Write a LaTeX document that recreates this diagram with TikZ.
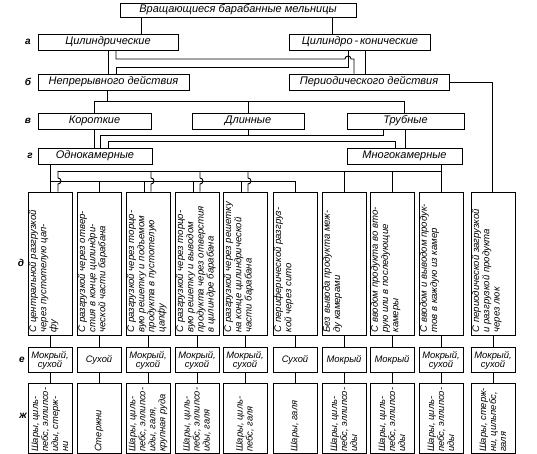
\documentclass[tikz,border=0pt]{standalone}
\usepackage{fontspec}
\setmainfont{Liberation Sans}
\usepackage{graphicx}
\usepackage{tikz}
\usetikzlibrary{positioning}
\newcommand{\dtxt}[1]{\rotatebox{90}{\parbox[c][42pt][t]{138pt}{\raggedright #1}}}
\newcommand{\ztxt}[1]{\rotatebox{90}{\parbox{66pt}{\raggedright #1}}}
\newcommand{\jdrop}[2]{\draw[ln] ([xshift=#2]#1.north |- g4) -- ([xshift=#2,yshift=3pt]#1.north |- g1) arc[start angle=90,end angle=-90,radius=3pt] -- ([xshift=#2]#1.north);}
\tikzset{
  hbox/.style={draw,line width=0.9pt,inner sep=1pt,minimum height=16pt,font=\fontsize{11}{12}\selectfont\itshape},
  dbox/.style={draw,line width=0.9pt,inner sep=0pt,minimum width=44pt,minimum height=143pt,font=\fontsize{9.6}{10.2}\selectfont\itshape},
  ebox/.style={draw,line width=0.9pt,inner sep=0pt,minimum width=44pt,minimum height=25pt,align=center,font=\fontsize{9.4}{9.6}\selectfont\itshape},
  zbox/.style={draw,line width=0.9pt,inner sep=0pt,minimum width=44pt,minimum height=70pt,font=\fontsize{9.4}{10}\selectfont\itshape},
  rowlbl/.style={font=\fontsize{10}{12}\selectfont\bfseries\itshape},
  ln/.style={line width=0.9pt},
}
\begin{document}
\begin{tikzpicture}[x=1pt,y=-1pt]
  \useasboundingbox (0,0) rectangle (537,454);
  % row labels
  \node[rowlbl] (la) at (28,42) {а};
  \node[rowlbl] (lb) at (28,82) {б};
  \node[rowlbl] (lv) at (28,121) {в};
  \node[rowlbl] (lg) at (30,156) {г};
  \node[rowlbl] (ld) at (21,263) {д};
  \node[rowlbl] (le) at (22,360) {е};
  \node[rowlbl] (lz) at (23,416) {ж};
  % headers
  \node[hbox,minimum width=236pt,minimum height=14pt] (top) at (238,10) {Вращающиеся барабанные мельницы};
  \node[hbox,minimum width=140pt] (cyl) at (108,42) {Цилиндрические};
  \node[hbox,minimum width=141pt] (cc) at (360,42) {Цилиндро\,-\,конические};
  \node[hbox,minimum width=151pt] (np) at (113.5,82) {Непрерывного действия};
  \node[hbox,minimum width=160pt] (pd) at (369,82) {Периодического действия};
  \node[hbox,minimum width=113pt] (kr) at (94.5,121) {Короткие};
  \node[hbox,minimum width=112pt] (dl) at (248,121) {Длинные};
  \node[hbox,minimum width=117pt] (tr) at (405.5,121) {Трубные};
  \node[hbox,minimum width=114pt] (od) at (95,156) {Однокамерные};
  \node[hbox,minimum width=115pt] (mk) at (404.5,156) {Многокамерные};
  % row d
  \node[dbox] (d1) at (50,263.5) {\dtxt{С центральной разгрузкой\\через пустотелую цап-\\фу}};
  \node[dbox] (d2) at (99,263.5) {\dtxt{С разгрузкой через отвер-\\стия в конце цилиндри-\\ческой части барабана}};
  \node[dbox] (d3) at (148,263.5) {\dtxt{С разгрузкой через торцо-\\вую решетку и подъемом\\продукта в пустотелую\\цапфу}};
  \node[dbox] (d4) at (197,263.5) {\dtxt{С разгрузкой через торцо-\\вую решетку и выводом\\продукта через отверстия\\в цилиндре барабана}};
  \node[dbox] (d5) at (245,263.5) {\dtxt{С разгрузкой через решетку\\на конце цилиндрической\\части барабана}};
  \node[dbox] (d6) at (295,263.5) {\dtxt{С периферической разгруз-\\кой через сито}};
  \node[dbox] (d7) at (344,263.5) {\dtxt{Без вывода продукта меж-\\ду камерами}};
  \node[dbox] (d8) at (392,263.5) {\dtxt{С вводом продукта во вто-\\рую или в последующие\\камеры}};
  \node[dbox] (d9) at (441,263.5) {\dtxt{С вводом и выводом продук-\\тов в каждую из камер}};
  \node[dbox] (d10) at (493,263.5) {\dtxt{С периодической загрузкой\\и разгрузкой продукта\\через люк}};
  % row e
  \node[ebox,below=12pt of d1] (e1) {Мокрый,\\сухой};
  \node[ebox,below=12pt of d2] (e2) {Сухой};
  \node[ebox,below=12pt of d3] (e3) {Мокрый,\\сухой};
  \node[ebox,below=12pt of d4] (e4) {Мокрый,\\сухой};
  \node[ebox,below=12pt of d5] (e5) {Мокрый,\\сухой};
  \node[ebox,below=12pt of d6] (e6) {Сухой};
  \node[ebox,below=12pt of d7] (e7) {Мокрый};
  \node[ebox,below=12pt of d8] (e8) {Мокрый};
  \node[ebox,below=12pt of d9] (e9) {Мокрый,\\сухой};
  \node[ebox,below=12pt of d10] (e10) {Мокрый,\\сухой};
  % row zh
  \node[zbox,below=10pt of e1] (z1) {\ztxt{Шары, циль-\\пебс, эллипсо-\\иды, стерж-\\ни}};
  \node[zbox,below=10pt of e2] (z2) {\ztxt{Стержни}};
  \node[zbox,below=10pt of e3] (z3) {\ztxt{Шары, циль-\\пебс, эллипсо-\\иды, галя,\\крупная руда}};
  \node[zbox,below=10pt of e4] (z4) {\ztxt{Шары, циль-\\пебс, эллипсо-\\иды, галя}};
  \node[zbox,below=10pt of e5] (z5) {\ztxt{Шары, циль-\\пебс, галя}};
  \node[zbox,below=10pt of e6] (z6) {\ztxt{Шары, галя}};
  \node[zbox,below=10pt of e7] (z7) {\ztxt{Шары, циль-\\пебс, эллипсо-\\иды}};
  \node[zbox,below=10pt of e8] (z8) {\ztxt{Шары, циль-\\пебс, эллипсо-\\иды}};
  \node[zbox,below=10pt of e9] (z9) {\ztxt{Шары, циль-\\пебс, эллипсо-\\иды}};
  \node[zbox,below=10pt of e10] (z10) {\ztxt{Шары, стерж-\\ни, цильпебс,\\галя}};
  % bends of the buses
  \coordinate (a1) at (116,59); \coordinate (a2) at (354,59);
  \coordinate (a3) at (348,67); \coordinate (a4) at (116,67);
  \coordinate (b1) at (94,101); \coordinate (b2) at (404,101);
  \coordinate (p1) at (492,82);
  \coordinate (c1) at (100,135); \coordinate (c2) at (383,135);
  \coordinate (c3) at (108,141); \coordinate (c4) at (395,141);
  \coordinate (g1) at (50,181); \coordinate (g2) at (295,181);
  \coordinate (g4) at (58,171);
  % a -> b
  \draw[ln] ([xshift=33pt]cyl.north) -- ([xshift=33pt]cyl.north |- top.south);
  \draw[ln] ([xshift=-28pt]cc.north) -- ([xshift=-28pt]cc.north |- top.south);
  \draw[ln] (cyl.south) -- (cyl.south |- np.north);
  \draw[ln] (cyl.south -| a1) -- (a1) -- (345,59) arc[start angle=180,end angle=0,radius=3pt] -- (a2) -- (pd.north -| a2);
  \draw[ln] (cc.south -| a3) -- (a3) -- (a4) -- (np.north -| a4);
  \draw[ln] ([xshift=5pt]cc.south) -- ([xshift=5pt]cc.south |- pd.north);
  % b -> v
  \draw[ln] ([xshift=-6.5pt]np.south) -- ([xshift=-6.5pt]np.south |- b1);
  \draw[ln] (kr.north -| b1) -- (b1) -- (b2) -- (tr.north -| b2);
  \draw[ln] (dl.north) -- (dl.north |- b1);
  \draw[ln] (pd.east) -- (p1) -- (d10.north -| p1);
  % v -> g
  \draw[ln] (kr.south) -- (kr.south |- od.north);
  \draw[ln] (dl.south) -- (dl.south |- c1);
  \draw[ln] (od.north -| c1) -- (c1) -- (c2) -- (tr.south -| c2);
  \draw[ln] (od.north -| c3) -- (c3) -- (c4) -- (mk.north -| c4);
  \draw[ln] (tr.south) -- (tr.south |- mk.north);
  % g -> d
  \draw[ln] (od.south -| g1) -- (d1.north -| g1);
  \draw[ln] (g1) -- (g2) -- (d6.north -| g2);
  \draw[ln] (d2.north |- g1) -- (d2.north);
  \draw[ln] ([xshift=-4pt]d3.north |- g1) -- ([xshift=-4pt]d3.north);
  \draw[ln] ([xshift=-4pt]d4.north |- g1) -- ([xshift=-4pt]d4.north);
  \draw[ln] ([xshift=-4pt]d5.north |- g1) -- ([xshift=-4pt]d5.north);
  \draw[ln] (mk.south -| d9.north) -- (d9.north);
  \draw[ln] (d9.north |- g4) -- (g4);
  \draw[ln] (d7.north |- g4) -- (d7.north);
  \draw[ln] (d8.north |- g4) -- (d8.north);
  \jdrop{d1}{8pt}
  \jdrop{d3}{3pt}
  \jdrop{d4}{3pt}
  \jdrop{d5}{3pt}
  % d -> e -> zh
  \draw[ln] (d1) -- (e1) -- (z1); \draw[ln] (d2) -- (e2) -- (z2);
  \draw[ln] (d3) -- (e3) -- (z3); \draw[ln] (d4) -- (e4) -- (z4);
  \draw[ln] (d5) -- (e5) -- (z5); \draw[ln] (d6) -- (e6) -- (z6);
  \draw[ln] (d7) -- (e7) -- (z7); \draw[ln] (d8) -- (e8) -- (z8);
  \draw[ln] (d9) -- (e9) -- (z9); \draw[ln] (d10) -- (e10) -- (z10);
\end{tikzpicture}
\end{document}
